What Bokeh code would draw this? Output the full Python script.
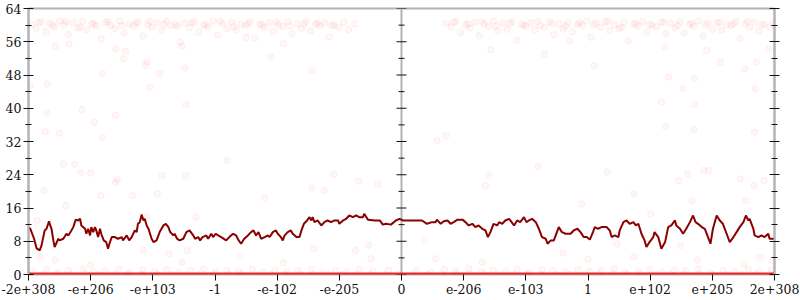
from bokeh.plotting import figure
from bokeh.models import Range1d, FixedTicker, LinearAxis, Span
from bokeh.embed import file_html
from bokeh.resources import INLINE

# x positions are the rank of the double's bit pattern, scaled so that the
# extremes (-2e+308 / 2e+308) sit at -6 / 6 and 0 sits at 0.
x_tick_pos = [-6, -5, -4, -3, -2, -1, 0, 1, 2, 3, 4, 5, 6]
x_tick_labels = ["-2e+308", "-e+206", "-e+103", "-1", "-e-102", "-e-205", "0",
                 "e-206", "e-103", "1", "e+102", "e+205", "2e+308"]
y_ticks = [0, 8, 16, 24, 32, 40, 48, 56, 64]

# moving-average line
line_x = [-6.00,-5.97,-5.91,-5.87,-5.82,-5.79,-5.74,-5.71,-5.67,-5.65,-5.63,-5.60,-5.58,-5.52,-5.50,-5.44,-5.39,-5.36,-5.31,-5.28,
          -5.24,-5.20,-5.17,-5.15,-5.09,-5.07,-5.04,-5.01,-4.99,-4.96,-4.93,-4.91,-4.88,-4.85,-4.83,-4.79,-4.75,-4.72,-4.69,-4.66,
          -4.61,-4.56,-4.50,-4.48,-4.42,-4.38,-4.34,-4.29,-4.26,-4.24,-4.21,-4.18,-4.15,-4.13,-4.10,-4.07,-4.02,-3.99,-3.94,-3.89,
          -3.83,-3.79,-3.75,-3.72,-3.67,-3.65,-3.61,-3.57,-3.51,-3.46,-3.41,-3.35,-3.32,-3.27,-3.24,-3.20,-3.14,-3.11,-3.06,-3.03,
          -2.99,
          -2.95,-2.90,-2.82,-2.77,-2.71,-2.66,-2.62,-2.58,-2.53,-2.47,-2.42,-2.38,-2.34,-2.30,-2.26,-2.20,-2.15,-2.12,-2.07,-2.02,
          -1.99,-1.94,-1.91,-1.88,-1.83,-1.78,-1.75,-1.69,-1.64,-1.61,-1.57,-1.53,-1.48,-1.45,-1.43,-1.40,-1.35,-1.29,-1.24,-1.19,
          -1.13,-1.08,-1.02,-1.00,-0.94,-0.89,-0.84,-0.78,-0.73,-0.68,-0.62,-0.60,-0.54,-0.43,-0.35,-0.30,-0.25,-0.17,-0.09,-0.03,
          0.02,
          0.33,0.41,0.49,0.55,0.57,0.63,0.68,0.74,0.79,0.84,0.90,0.98,1.03,1.08,1.14,1.19,1.24,1.30,1.35,1.39,
          1.43,1.48,1.54,1.57,1.62,1.67,1.73,1.75,1.81,1.86,1.91,1.97,2.01,2.05,2.10,2.16,2.21,2.26,2.32,2.35,
          2.40,2.45,2.50,2.53,2.58,2.64,2.72,2.77,2.83,2.88,2.93,
          2.98,3.03,3.08,3.11,3.16,3.22,3.30,3.35,3.38,3.43,3.49,3.51,3.57,3.62,3.67,3.73,3.77,3.81,3.86,3.91,
          3.94,3.99,4.05,4.07,4.13,4.18,4.24,4.29,4.34,4.40,4.42,4.48,4.53,4.58,4.64,4.69,4.73,4.77,4.83,4.88,
          4.93,4.97,5.01,5.07,5.12,5.17,5.23,5.28,5.34,5.39,5.44,5.50,5.54,5.58,5.60,5.66,5.68,5.74,5.79,5.84,
          5.90,5.92,6.00]
line_y = [11.2,11.0,8.6,6.3,5.8,7.0,10.6,11.0,12.8,11.8,11.0,8.2,6.6,8.6,8.2,8.6,9.8,9.4,10.6,11.4,
          13.2,13.0,13.4,11.8,11.0,9.8,11.0,9.4,11.4,10.2,11.4,10.6,9.0,11.0,9.8,8.2,7.8,6.2,7.8,9.0,
          9.0,8.6,9.0,8.2,9.4,8.2,9.0,10.6,10.2,12.2,12.6,14.4,13.0,13.4,11.8,11.0,8.6,7.8,8.2,10.2,
          11.8,12.2,11.4,10.2,9.4,9.8,8.6,8.2,8.6,10.2,10.6,9.4,8.6,9.0,8.2,9.0,9.4,8.6,9.8,9.0,
          9.8,
          9.4,9.0,8.2,9.0,9.8,9.4,8.2,7.4,8.6,9.4,10.2,10.6,9.4,10.2,8.6,9.0,9.4,9.0,10.2,10.6,
          9.8,9.0,8.2,9.4,10.2,10.6,9.8,9.0,9.0,10.6,12.2,12.8,13.8,13.0,13.8,12.6,13.0,11.8,12.6,13.0,
          12.6,13.0,13.0,12.2,13.0,13.4,14.2,13.8,14.2,13.8,13.8,14.6,13.2,13.0,13.0,12.0,12.2,12.0,13.0,13.4,
          13.0,
          13.0,12.2,12.6,12.6,13.2,12.2,12.8,13.0,12.2,12.6,13.2,13.2,12.6,11.8,12.2,11.4,11.8,11.0,10.6,9.0,
          10.2,12.2,11.8,12.6,12.2,13.0,13.4,13.0,11.8,13.0,12.6,13.8,12.6,13.0,13.4,12.6,11.0,9.0,8.6,7.4,
          8.2,8.2,10.2,11.4,10.2,9.8,9.8,10.6,11.0,10.2,9.0,
          9.0,8.4,10.2,11.4,11.0,11.4,11.4,10.6,9.0,9.4,9.0,10.6,12.6,13.0,12.2,12.6,11.8,12.2,9.8,8.2,
          6.6,7.8,9.0,10.2,9.0,6.2,7.8,11.4,11.8,13.0,11.8,11.0,9.8,11.0,12.6,14.2,12.6,12.2,11.4,11.0,
          9.0,7.4,11.0,14.2,13.0,12.2,9.8,7.8,9.0,10.2,11.4,12.6,14.2,13.0,13.4,11.0,9.4,9.0,9.4,9.0,
          9.8,8.6,8.6]

# individual samples: dense band near the top
top_x = [-5.95,-5.88,-5.80,-5.72,-5.66,-5.58,-5.50,-5.43,-5.36,-5.28,-5.21,-5.13,-5.06,-4.98,-4.91,-4.83,-4.76,-4.68,-4.61,-4.53,
         -4.46,-4.38,-4.31,-4.23,-4.16,-4.08,-4.01,-3.93,-3.86,-3.78,-3.71,-3.63,-3.56,-3.48,-3.41,-3.33,-3.26,-3.18,-3.11,-3.03,
         -2.96,-2.88,-2.81,-2.73,-2.66,-2.58,-2.51,-2.43,-2.36,-2.28,-2.21,-2.13,-2.06,-1.98,-1.91,-1.83,-1.76,-1.68,-1.61,-1.53,
         -1.46,-1.38,-1.31,-1.23,-1.16,-1.08,-1.01,-0.93,-0.85,-0.75,
         0.72,0.80,0.88,0.95,1.03,1.10,1.18,1.25,1.33,1.40,1.48,1.55,1.63,1.70,1.78,1.85,1.93,2.00,2.08,2.15,
         2.23,2.30,2.38,2.45,2.53,2.60,2.68,2.75,2.83,2.90,2.98,3.05,3.13,3.20,3.28,3.35,3.43,3.50,3.58,3.65,
         3.73,3.80,3.88,3.95,4.03,4.10,4.18,4.25,4.33,4.40,4.48,4.55,4.63,4.70,4.78,4.85,4.93,5.00,5.08,5.15,
         5.23,5.30,5.38,5.45,5.53,5.60,5.68,5.75,5.83,5.92,
         -5.84,-5.62,-5.40,-5.17,-4.95,-4.72,-4.50,-4.27,-4.05,-3.82,-3.60,-3.37,-3.15,-2.92,-2.70,-2.47,-2.25,-2.02,-1.80,-1.57,
         -1.35,-1.12,0.84,1.07,1.29,1.52,1.74,1.97,2.19,2.42,2.64,2.87,3.09,3.32,3.54,3.77,3.99,4.22,4.44,4.67,
         4.89,5.12,5.34,5.57,5.79,5.97]
top_y = [60.2,59.1,60.8,58.4,60.5,59.6,61.0,60.1,57.8,60.6,59.3,60.9,58.9,60.4,59.8,56.7,60.7,60.0,59.2,61.0,
         58.1,60.3,59.7,60.8,57.3,60.1,59.5,60.6,58.7,60.9,59.9,60.2,55.9,60.5,59.4,60.8,58.3,60.0,59.6,61.0,
         57.6,60.4,59.1,60.7,58.8,60.2,59.9,60.9,56.9,60.3,59.4,60.6,58.5,60.1,59.7,60.8,57.9,60.4,59.2,60.9,
         58.6,60.2,59.8,60.5,57.2,60.0,59.5,60.7,58.9,60.3,
         60.4,59.6,60.9,58.2,60.1,59.3,60.7,57.5,60.3,59.8,61.0,58.6,60.5,59.0,60.8,56.4,60.2,59.7,60.6,58.9,
         60.0,59.4,60.9,57.7,60.4,59.1,60.7,58.3,60.2,59.9,61.0,57.1,60.5,59.5,60.8,58.7,60.1,59.2,60.6,56.2,
         60.3,59.8,60.9,58.4,60.0,59.6,60.7,57.9,60.4,59.3,60.8,58.1,60.2,59.7,61.0,57.4,60.5,59.0,60.6,58.8,
         60.1,59.9,60.9,56.8,60.3,59.4,60.7,58.5,60.2,59.6,
         60.6,60.0,60.9,59.5,60.3,60.8,59.9,60.5,61.0,60.2,59.7,60.6,60.1,60.9,59.6,60.4,60.0,60.7,59.8,60.3,
         60.5,59.9,60.7,60.2,60.9,59.7,60.4,60.0,60.8,60.3,59.8,60.6,60.1,60.9,59.5,60.4,60.2,60.8,59.9,60.5,
         60.0,60.7,60.3,60.9,60.1,60.4]

# sparse samples in between
mid_x = [-5.97,-5.70,-4.81,-5.14,-5.70,-4.60,-4.94,-5.73,-5.50,-4.81,-4.47,-4.12,-4.09,-3.89,-4.05,-3.49,-3.46,-5.57,-5.35,-4.60,
         -4.44,-3.53,4.30,4.71,4.53,4.18,4.72,4.25,4.70,5.68,5.69,5.52,5.71,5.13,4.91,4.23,5.91,-1.44,0.71,0.57,
         1.44,-5.44,-5.26,-5.16,-5.00,-4.57,-4.60,-4.33,-4.84,-5.40,-5.57,-5.81,-5.00,-4.15,-3.74,-3.45,-3.53,-3.85,-3.93,-3.47,
         -5.75,-5.86,-4.09,-3.31,-1.09,-0.69,-0.38,-1.44,-1.24,-0.49,0.55,1.30,1.40,1.35,0.37,-0.53,-0.74,-1.41,3.31,3.74,
         4.46,4.86,4.94,4.60,5.45,5.67,5.53,4.68,4.01,3.47,3.74,4.49,4.76,5.51,5.77,5.98,5.83,-2.50,-2.10,-1.90,
         2.30,2.70,3.10,-2.80,-2.20,2.20,2.90,-2.60,2.60,-1.90,3.00]
mid_y = [45.5,45.9,48.3,39.7,38.9,38.3,36.6,34.4,34.0,32.9,51.9,50.3,51.1,48.4,45.1,49.7,40.9,54.9,55.5,54.3,
         53.7,54.9,47.5,47.2,44.8,41.5,40.9,35.6,34.9,34.2,44.7,49.5,51.1,51.1,53.9,54.7,54.3,48.9,33.4,32.2,
         54.1,26.6,26.5,24.6,24.4,22.8,22.2,19.0,19.0,16.6,3.4,4.2,2.2,5.8,5.0,5.8,3.0,23.8,19.4,23.8,
         20.2,13.0,13.8,13.8,24.1,22.5,21.7,20.9,20.2,3.8,3.8,3.0,23.8,21.4,8.3,7.1,5.8,6.2,24.6,19.4,
         22.6,25.0,25.0,24.2,23.0,21.4,17.8,17.8,14.6,7.4,4.2,7.0,3.4,2.6,4.2,3.4,22.6,57.0,52.4,55.6,
         53.0,56.2,50.2,27.5,18.5,26.0,17.0,4.5,5.2,2.8,3.6]

# samples just above zero
low_x = [-5.93,-5.71,-5.52,-5.36,-5.12,-4.95,-4.77,-4.55,-4.38,-4.16,-3.97,-3.78,-3.58,-3.39,-3.18,-2.99,-2.81,-2.62,-2.40,-2.22,
         -2.03,-1.84,-1.66,-1.45,-1.27,-1.06,-0.88,-0.67,-0.46,-0.21,0.24,0.48,0.69,0.87,1.08,1.29,1.47,1.68,1.86,2.05,
         2.26,2.43,2.63,2.84,3.02,3.21,3.42,3.59,3.81,3.99,4.18,4.39,4.57,4.78,4.96,5.17,5.36,5.58,5.76,5.95]
low_y = [0.8,1.2,0.5,1.0,1.4,0.6,0.9,1.3,0.4,1.1,0.7,1.2,0.5,0.9,1.4,0.6,1.0,0.8,1.3,0.5,
         1.1,0.7,0.9,1.2,0.4,1.0,0.6,1.3,0.8,1.1,0.9,0.5,1.2,0.7,1.4,0.6,1.0,0.8,1.3,0.5,
         1.1,0.9,0.6,1.2,0.7,1.0,1.4,0.5,0.8,1.2,0.6,1.1,0.9,1.3,0.4,1.0,0.7,1.2,0.8,1.1]

# samples exactly at zero
zero_x = [-6.00,-5.78,-5.55,-5.31,-5.08,-4.86,-4.62,-4.40,-4.17,-3.93,-3.71,-3.48,-3.26,-3.02,-2.79,-2.57,-2.33,-2.11,-1.87,-1.64,
          -1.42,-1.18,-0.95,-0.73,-0.50,-0.27,-0.05,0.18,0.42,0.64,0.87,1.11,1.33,1.56,1.80,2.02,2.25,2.49,2.71,2.94,
          3.17,3.40,3.63,3.86,4.09,4.32,4.55,4.78,5.01,5.24,5.47,5.70,5.93,6.00]
zero_y = [0] * len(zero_x)

assert len(line_x) == len(line_y), (len(line_x), len(line_y))
assert len(top_x) == len(top_y), (len(top_x), len(top_y))
assert len(mid_x) == len(mid_y), (len(mid_x), len(mid_y))
assert len(low_x) == len(low_y), (len(low_x), len(low_y))

FONT = "DejaVu Serif"
AXIS_GRAY = "#b4b4b4"

p = figure(width=800, height=300, x_range=Range1d(-6, 6), y_range=Range1d(0, 64),
           output_backend="svg", toolbar_location=None,
           min_border_left=28, min_border_right=26, min_border_top=8, min_border_bottom=26)
p.xgrid.visible = False
p.ygrid.visible = False
p.outline_line_color = AXIS_GRAY
p.outline_line_width = 2
p.background_fill_color = "white"
p.border_fill_color = "white"

y_minor = [t + 4 for t in y_ticks[:-1]]
yticker = FixedTicker(ticks=y_ticks, minor_ticks=y_minor)

# left axis
ax = p.yaxis[0]
ax.ticker = yticker
ax.axis_line_color = AXIS_GRAY
ax.axis_line_width = 2
ax.major_tick_in = 5
ax.major_tick_out = 5
ax.minor_tick_in = 3
ax.minor_tick_out = 3
ax.major_tick_line_color = "#111111"
ax.minor_tick_line_color = "#111111"
ax.major_label_text_font = FONT
ax.major_label_text_font_size = "12.5px"
ax.major_label_text_color = "#111111"
ax.major_label_standoff = 2

# right axis (ticks only)
rax = LinearAxis(ticker=yticker, major_label_overrides={t: "" for t in y_ticks})
rax.axis_line_color = AXIS_GRAY
rax.axis_line_width = 2
rax.major_tick_in = 5
rax.major_tick_out = 5
rax.minor_tick_in = 3
rax.minor_tick_out = 3
rax.major_tick_line_color = "#111111"
rax.minor_tick_line_color = "#111111"
rax.major_label_standoff = 0
p.add_layout(rax, "right")

# bottom axis
bx = p.xaxis[0]
bx.ticker = FixedTicker(ticks=x_tick_pos, minor_ticks=[])
bx.major_label_overrides = {t: lab for t, lab in zip(x_tick_pos, x_tick_labels)}
bx.axis_line_color = None
bx.major_tick_in = 0
bx.major_tick_out = 6
bx.major_tick_line_color = "#111111"
bx.major_label_text_font = FONT
bx.major_label_text_font_size = "12.5px"
bx.major_label_text_color = "#111111"
bx.major_label_standoff = 3

# central axis at x = 0
p.add_layout(Span(location=0, dimension="height", line_color=AXIS_GRAY, line_width=2, level="underlay"))
p.scatter(x=[0] * len(y_ticks), y=y_ticks, marker="dash", size=10, line_color="#111111", line_width=1)
p.scatter(x=[0] * len(y_minor), y=y_minor, marker="dash", size=6, line_color="#111111", line_width=1)

# samples
pt_kw = dict(size=6.5, fill_color="red", fill_alpha=0.035, line_color="red", line_alpha=0.05)
p.scatter(x=top_x, y=top_y, **pt_kw)
p.scatter(x=mid_x, y=mid_y, **pt_kw)
p.scatter(x=low_x, y=low_y, **pt_kw)
p.scatter(x=zero_x, y=zero_y, **pt_kw)
p.line(x=zero_x, y=zero_y, line_color="#e81010", line_alpha=0.9, line_width=4)

# moving average
p.line(x=line_x, y=line_y, line_color="#8b0000", line_width=2)

open("out.html", "w").write(file_html(p, INLINE))
